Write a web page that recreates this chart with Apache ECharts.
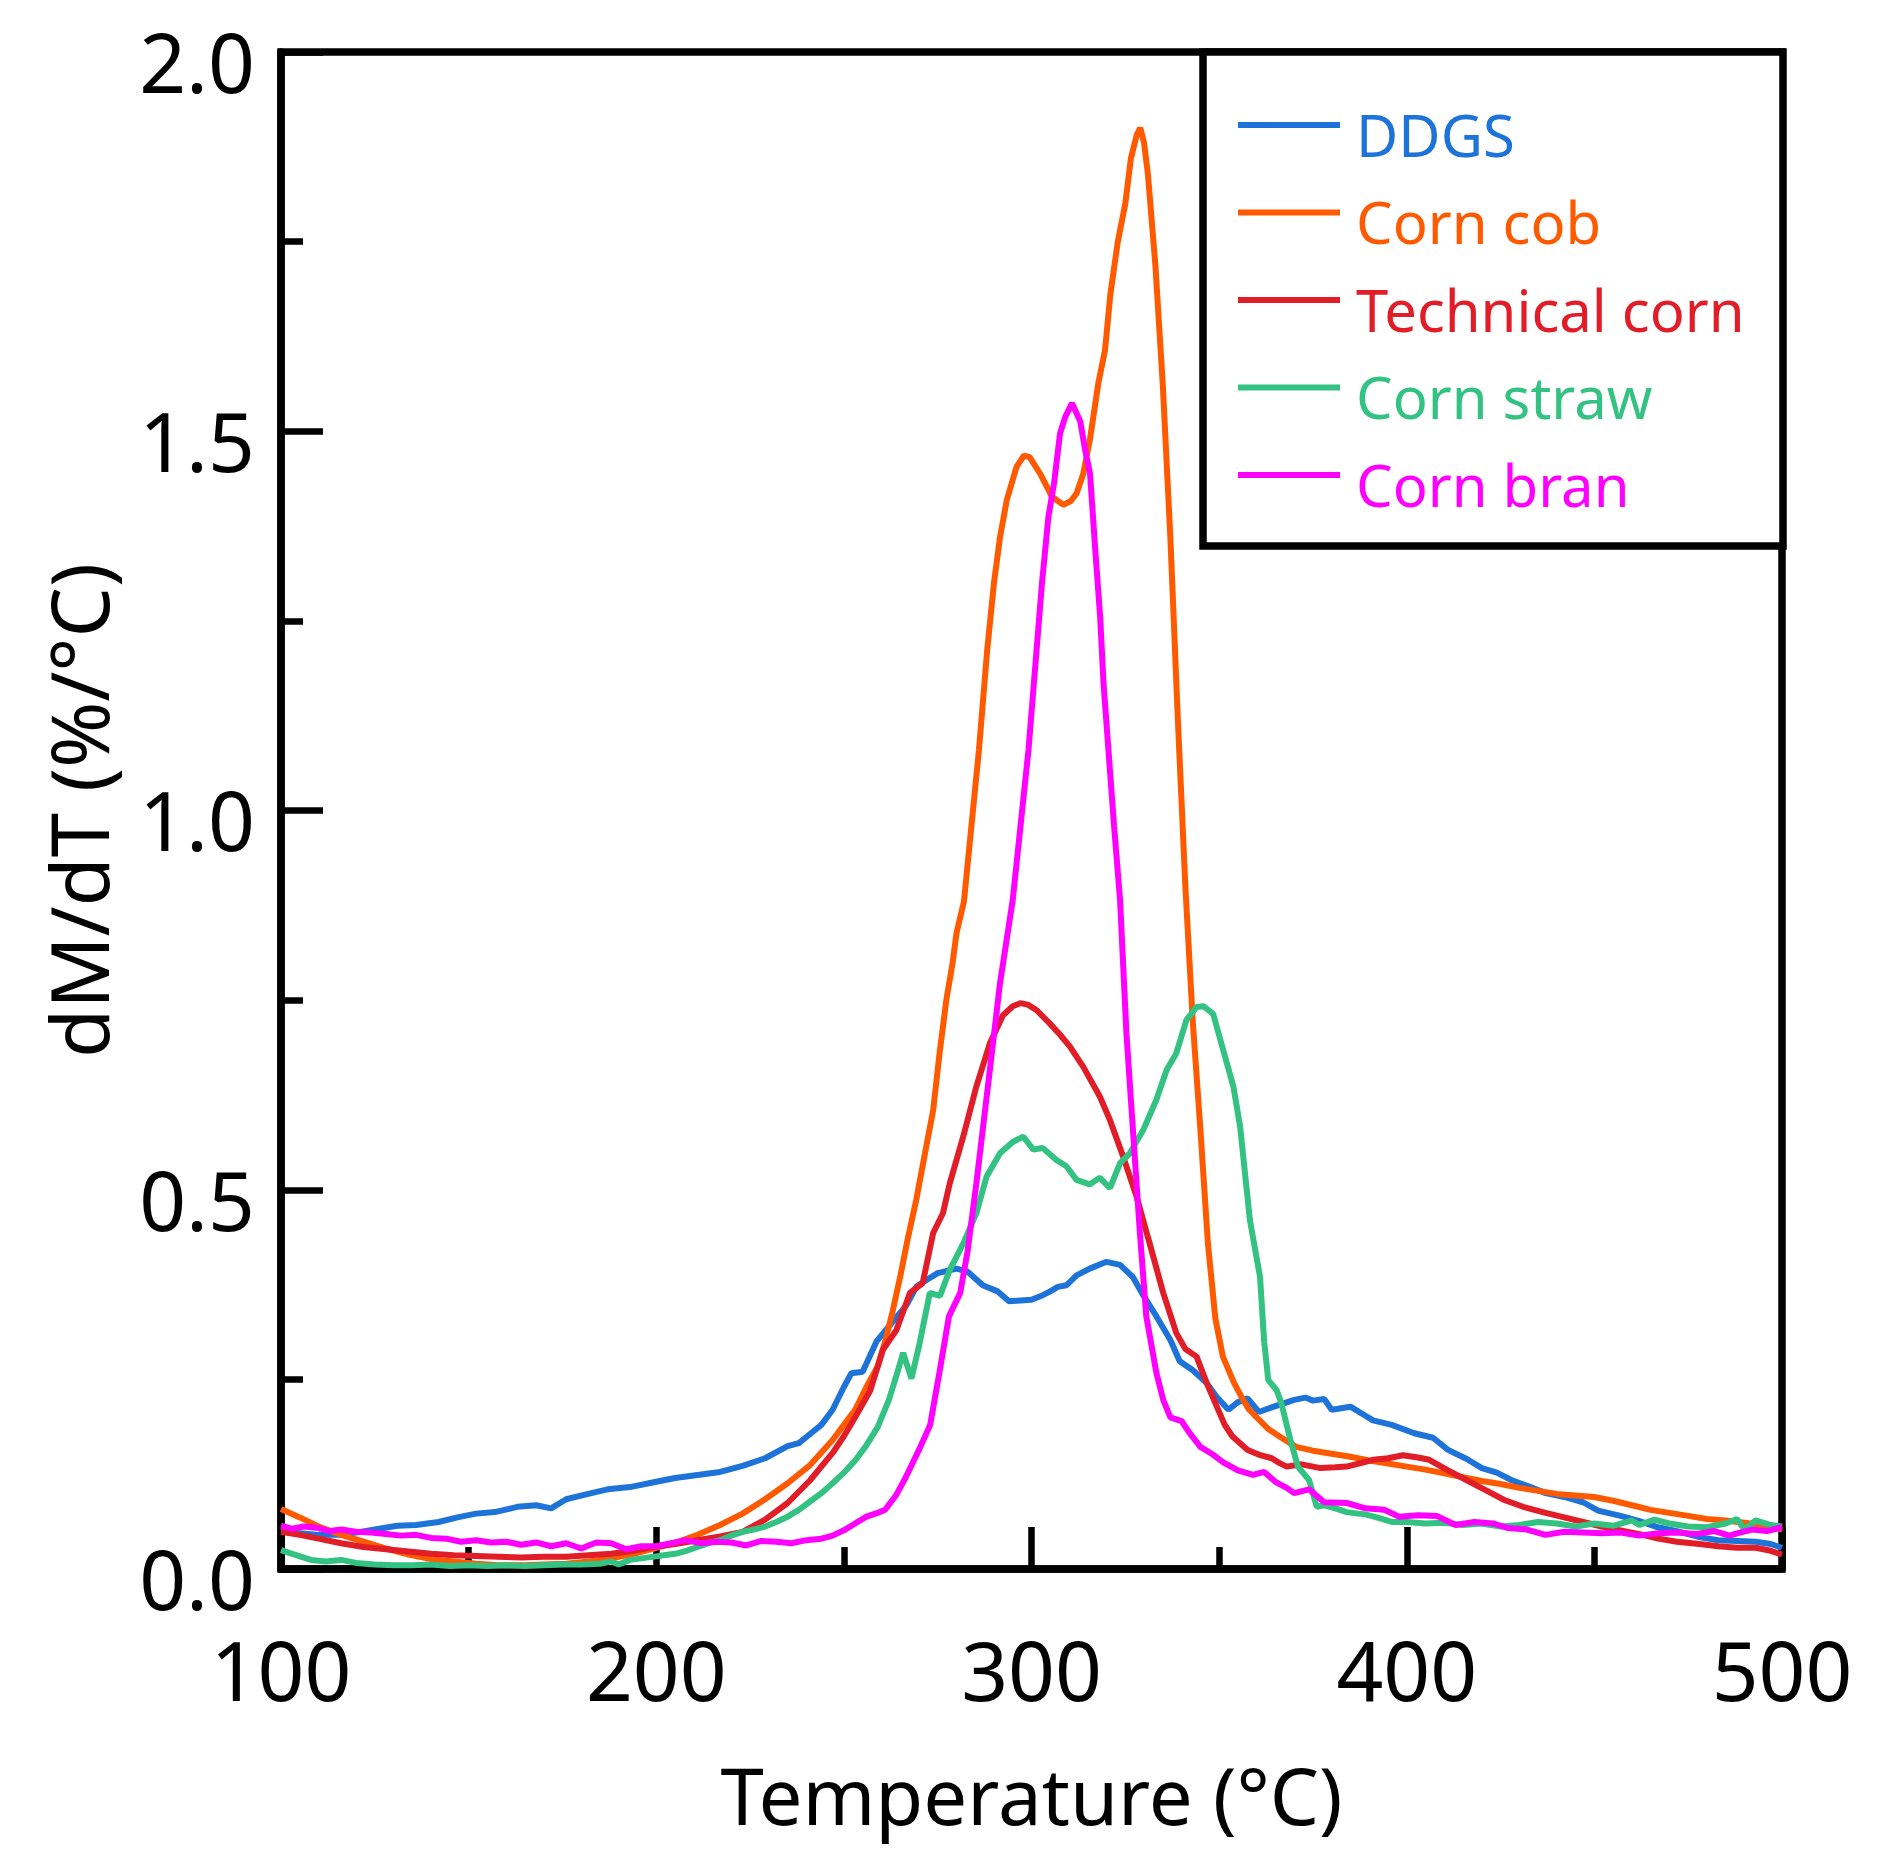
<!DOCTYPE html>
<html>
<head>
<meta charset="utf-8">
<script src="https://cdn.jsdelivr.net/npm/echarts@6.0.0/dist/echarts.min.js"></script>
<style>
html, body { margin: 0; padding: 0; background: #fff; }
#datas { width: 1888px; height: 1873px; }
</style>
</head>
<body>
<div id="datas"></div>
<script>
// temperature (°C) / dM/dT (%/°C) pairs
var ddgs = [[100,0.049],[105,0.047],[110,0.045],[116,0.045],[120,0.048],[125,0.052],[131,0.057],[136,0.058],[142,0.062],[147,0.068],[152,0.073],[157,0.075],[163,0.082],[168,0.084],[172,0.080],[176,0.092],[181,0.098],[187,0.105],[193,0.108],[199,0.114],[205,0.120],[211,0.124],[217,0.128],[223,0.136],[229,0.146],[235,0.162],[238,0.166],[241,0.178],[244,0.190],[247,0.21],[250,0.24],[252,0.258],[255,0.26],[258.7,0.30],[262,0.32],[266.7,0.348],[269.3,0.372],[272,0.381],[275,0.39],[280,0.396],[283,0.392],[287,0.374],[291,0.366],[294,0.353],[297,0.354],[300,0.355],[303,0.361],[305,0.366],[307,0.372],[309.3,0.374],[312,0.387],[315.5,0.396],[320,0.405],[323.6,0.401],[327,0.385],[330,0.359],[333.3,0.333],[337,0.302],[339.5,0.274],[343,0.262],[346.7,0.245],[349.3,0.227],[352.5,0.21],[355,0.22],[357.6,0.225],[360.6,0.207],[364,0.213],[367,0.218],[370,0.223],[373,0.226],[375,0.222],[378,0.224],[380,0.21],[385,0.214],[388,0.205],[391,0.196],[396,0.19],[402,0.179],[407,0.173],[411,0.157],[416,0.145],[420,0.133],[424,0.127],[428,0.117],[433,0.108],[437,0.10],[442,0.095],[447,0.088],[451,0.077],[457,0.070],[462,0.063],[467,0.055],[472,0.05],[478,0.042],[483,0.038],[488,0.037],[493,0.036],[497,0.033],[500,0.028]];

var cornCob = [[100,0.079],[105,0.068],[110,0.056],[116,0.045],[122,0.036],[128,0.027],[134,0.019],[140,0.013],[146,0.010],[152,0.007],[158,0.005],[165,0.005],[170,0.006],[176,0.007],[182,0.010],[188,0.014],[194,0.020],[200,0.028],[206,0.036],[211,0.045],[217,0.058],[223,0.073],[229,0.092],[235,0.113],[241,0.137],[247,0.17],[250,0.19],[253,0.21],[256,0.24],[259,0.267],[261,0.30],[263,0.34],[265,0.385],[267,0.435],[269.3,0.487],[271.5,0.545],[273.8,0.605],[275.5,0.68],[277.3,0.75],[279,0.80],[280,0.838],[282,0.88],[284,0.98],[286,1.08],[288.2,1.212],[290,1.30],[291.6,1.36],[293.4,1.409],[296,1.453],[298,1.468],[299.5,1.466],[302.3,1.444],[305.4,1.414],[308.5,1.403],[310.5,1.408],[312,1.418],[313.8,1.444],[315.6,1.49],[317.8,1.563],[319.6,1.607],[321,1.68],[323,1.75],[325,1.80],[326.5,1.86],[328,1.89],[329,1.90],[330,1.88],[331,1.84],[333,1.72],[335,1.56],[337,1.36],[339,1.12],[341,0.90],[343,0.72],[345,0.58],[347,0.43],[349,0.33],[351,0.28],[354,0.245],[356.4,0.223],[358,0.21],[360,0.20],[363,0.185],[366,0.175],[370.5,0.161],[375,0.156],[380,0.152],[385,0.148],[390,0.143],[395,0.139],[400,0.135],[405,0.131],[410,0.126],[415,0.121],[420,0.116],[425,0.112],[430,0.107],[435,0.103],[440,0.099],[445,0.097],[450,0.095],[455,0.09],[460,0.084],[465,0.078],[470,0.074],[475,0.070],[480,0.066],[485,0.064],[490,0.061],[495,0.058],[500,0.052]];

var technicalCorn = [[100,0.049],[105,0.045],[110,0.040],[116,0.034],[122,0.029],[128,0.026],[134,0.023],[140,0.020],[146,0.018],[152,0.017],[158,0.016],[164,0.015],[170,0.016],[176,0.016],[182,0.018],[188,0.020],[194,0.024],[199,0.029],[205,0.033],[211,0.038],[217,0.043],[223,0.049],[229,0.065],[235,0.087],[241,0.117],[247,0.153],[250,0.175],[253,0.20],[257,0.235],[260.4,0.289],[264,0.315],[267.6,0.364],[271,0.377],[273.8,0.443],[276.4,0.469],[278.2,0.508],[281.8,0.57],[285.3,0.636],[288.9,0.693],[292.4,0.73],[295,0.742],[297,0.746],[299,0.744],[301.3,0.737],[304.9,0.719],[307.5,0.705],[310.2,0.689],[313.8,0.662],[318.2,0.623],[320.9,0.592],[324.4,0.544],[328,0.491],[331.5,0.429],[335.1,0.364],[338.6,0.311],[341,0.29],[344,0.28],[346.7,0.245],[349.3,0.215],[351.5,0.19],[353.5,0.175],[357.6,0.157],[361,0.150],[364,0.146],[366,0.140],[368,0.135],[372,0.138],[377,0.133],[381,0.134],[384,0.135],[388,0.140],[391,0.144],[395,0.146],[399,0.150],[403,0.147],[406,0.144],[411,0.130],[416,0.117],[421,0.104],[426,0.091],[431,0.082],[437,0.074],[442,0.068],[447,0.062],[452,0.056],[457,0.051],[462,0.046],[467,0.040],[472,0.036],[478,0.033],[483,0.030],[488,0.028],[493,0.028],[497,0.024],[500,0.019]];

var cornStraw = [[100,0.025],[103,0.020],[108,0.012],[112,0.010],[116,0.012],[120,0.008],[125,0.006],[130,0.005],[135,0.005],[140,0.006],[145,0.004],[150,0.005],[155,0.004],[160,0.005],[165,0.004],[170,0.005],[175,0.006],[180,0.006],[185,0.007],[188,0.010],[190,0.006],[193,0.012],[196,0.014],[199,0.016],[202,0.018],[205,0.020],[208,0.024],[211,0.029],[214,0.034],[217,0.038],[220,0.044],[223,0.049],[226,0.052],[229,0.056],[232,0.062],[235,0.069],[238,0.078],[241,0.089],[244,0.10],[247,0.113],[250,0.127],[253,0.143],[256,0.163],[259,0.187],[262,0.223],[264,0.255],[265.8,0.285],[268,0.251],[270.2,0.298],[272.9,0.364],[275.6,0.36],[278.2,0.394],[281.8,0.429],[285.3,0.469],[288,0.517],[291.6,0.548],[295,0.563],[297.8,0.57],[300.5,0.553],[303,0.555],[306.7,0.539],[309.3,0.531],[312,0.513],[315.5,0.507],[318.2,0.516],[320.9,0.502],[323.6,0.535],[326.2,0.548],[329.8,0.579],[333.3,0.619],[336,0.658],[338.6,0.68],[341.3,0.724],[344,0.741],[345.8,0.742],[348.4,0.732],[351.1,0.684],[353.8,0.636],[355.6,0.583],[358.2,0.46],[360.9,0.385],[362,0.30],[363.1,0.249],[365.3,0.236],[366.5,0.22],[369,0.17],[371,0.135],[374,0.117],[376,0.082],[378,0.084],[381,0.080],[384,0.075],[387,0.073],[389,0.072],[392,0.068],[396,0.062],[400,0.062],[405,0.060],[410,0.061],[415,0.058],[420,0.060],[425,0.056],[430,0.058],[435,0.062],[440,0.060],[445,0.056],[450,0.060],[455,0.057],[460,0.064],[462,0.058],[466,0.065],[470,0.06],[475,0.056],[480,0.055],[485,0.060],[488,0.066],[490,0.052],[493,0.064],[497,0.058],[500,0.056]];

var cornBran = [[100,0.057],[103,0.053],[106,0.056],[110,0.054],[113,0.050],[116,0.052],[120,0.049],[124,0.048],[128,0.046],[132,0.044],[136,0.045],[140,0.041],[144,0.040],[148,0.036],[152,0.038],[156,0.035],[160,0.036],[164,0.032],[168,0.035],[172,0.030],[176,0.034],[180,0.027],[184,0.035],[188,0.034],[192,0.026],[196,0.030],[200,0.030],[204,0.034],[208,0.038],[212,0.034],[216,0.036],[220,0.035],[224,0.031],[228,0.037],[232,0.036],[236,0.034],[240,0.038],[244,0.040],[247,0.044],[250,0.051],[253,0.060],[256,0.069],[259,0.074],[261,0.078],[264,0.098],[266.6,0.122],[270,0.157],[273,0.19],[275.5,0.26],[278,0.333],[281,0.364],[283,0.42],[285.3,0.508],[289,0.662],[291.6,0.772],[295,0.882],[299.2,1.08],[301,1.19],[302.8,1.30],[304.5,1.387],[306,1.431],[307.6,1.497],[309,1.519],[310.8,1.537],[313,1.513],[314.3,1.475],[315.6,1.444],[317,1.343],[318.3,1.255],[319.2,1.167],[320.5,1.08],[322,0.98],[323.6,0.882],[325.3,0.706],[327.1,0.574],[328.9,0.442],[330.6,0.333],[333.3,0.258],[335.1,0.223],[337,0.20],[340,0.195],[342,0.18],[345,0.161],[348,0.152],[351,0.141],[355,0.130],[359,0.124],[362,0.128],[365,0.115],[368,0.107],[370,0.10],[374,0.105],[378,0.088],[384,0.087],[389,0.08],[394,0.078],[398,0.069],[403,0.071],[408,0.070],[413,0.058],[418,0.062],[423,0.060],[427,0.054],[432,0.052],[437,0.045],[442,0.049],[447,0.048],[452,0.047],[457,0.048],[462,0.044],[467,0.047],[472,0.048],[477,0.046],[482,0.050],[486,0.044],[488,0.047],[492,0.052],[496,0.05],[500,0.055]];

var names = ['DDGS', 'Corn cob', 'Technical corn', 'Corn straw', 'Corn bran'];
var colors = ['#1e73d9', '#ff5a00', '#e11d28', '#33c282', '#ff00ff'];
var curves = [ddgs, cornCob, technicalCorn, cornStraw, cornBran];

var series = [];
var legendData = [];
for (var i = 0; i < names.length; i++) {
	series.push({
		name: names[i],
		type: 'line',
		data: curves[i],
		showSymbol: false,
		symbol: 'none',
		lineStyle: { color: colors[i], width: 6 },
		itemStyle: { color: colors[i] }
	});
	legendData.push({ name: names[i], textStyle: { color: colors[i] } });
}

// legend sample: a bar at the top of a taller box, so the label sits a bit lower than the bar
var legendIcon = 'path://M0,0L102,0L102,6L0,6Z M0,36L0,36Z';

var black = '#000';
var option = {
	animation: false,
	backgroundColor: '#fff',
	textStyle: { fontFamily: 'Noto Sans' },
	grid: {
		left: 281, right: 106, top: 52, bottom: 304,
		outerBoundsMode: 'none',
		show: true, borderColor: black, borderWidth: 7.5
	},
	legend: {
		orient: 'vertical',
		left: 1203, top: 52,
		padding: [58, 23, 26, 35],
		itemWidth: 102, itemHeight: 36, itemGap: 27.5,
		icon: legendIcon,
		borderColor: black, borderWidth: 7.5,
		backgroundColor: '#fff',
		textStyle: { fontSize: 58, lineHeight: 60, padding: [0, 0, 0, 11], width: 404, fontFamily: 'Noto Sans' },
		data: legendData
	},
	xAxis: {
		type: 'value', min: 100, max: 500, interval: 100,
		name: 'Temperature (°C)', nameLocation: 'middle', nameGap: 195,
		nameTextStyle: { fontSize: 78, color: black },
		axisLine: { lineStyle: { color: black, width: 7.5 } },
		axisTick: { inside: true, length: 42, lineStyle: { color: black, width: 6.5 } },
		minorTick: { show: true, splitNumber: 2, length: 22, lineStyle: { color: black, width: 6.5 } },
		splitLine: { show: false },
		axisLabel: { fontSize: 82, color: black, margin: 68, showMinLabel: true, showMaxLabel: true }
	},
	yAxis: {
		type: 'value', min: 0, max: 2, interval: 0.5,
		name: 'dM/dT (%/°C)', nameLocation: 'middle', nameGap: 155,
		nameTextStyle: { fontSize: 80, color: black },
		axisLine: { lineStyle: { color: black, width: 7.5 } },
		axisTick: { inside: true, length: 42, lineStyle: { color: black, width: 6.5 } },
		minorTick: { show: true, splitNumber: 2, length: 22, lineStyle: { color: black, width: 6.5 } },
		splitLine: { show: false },
		axisLabel: {
			fontSize: 82, color: black, margin: 26, lineHeight: 35,
			showMinLabel: true, showMaxLabel: true,
			// blank first line drops the number slightly below its tick, as in the figure
			formatter: function (v) { return '\n' + v.toFixed(1); }
		}
	},
	series: series
};

var myChart = echarts.init(document.getElementById('datas'));
myChart.setOption(option);
</script>
</body>
</html>
